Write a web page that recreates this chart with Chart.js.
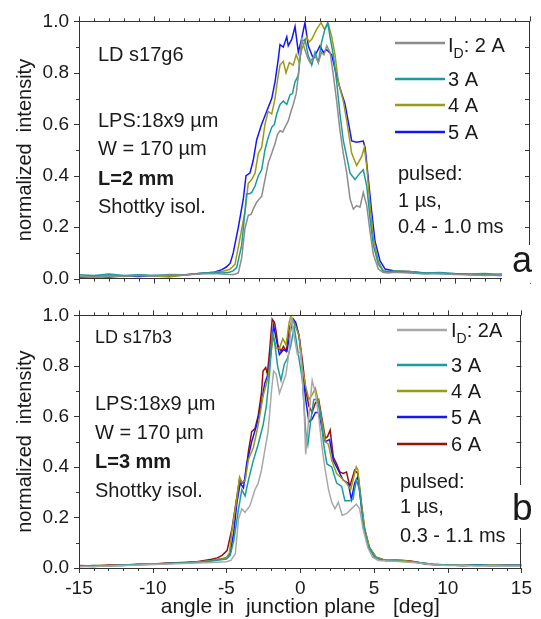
<!DOCTYPE html>
<html>
<head>
<meta charset="utf-8">
<script src="https://cdn.jsdelivr.net/npm/chart.js@4.4.1/dist/chart.umd.min.js"></script>
<style>
    html, body { margin: 0; padding: 0; background: #fff; }
    #wrap { position: relative; width: 541px; height: 619px; overflow: hidden; }
    canvas { position: absolute; left: 0; }
    #chartA { top: 0; }
    #chartB { top: 294px; }
</style>
</head>
<body>
<div id="wrap">
    <canvas id="chartA" width="541" height="300"></canvas>
    <canvas id="chartB" width="541" height="325"></canvas>
</div>
<script>
// x: angle in junction plane [deg], y: normalized intensity
const xTicks = [-15, -10, -5, 0, 5, 10, 15];
const yTicks = [0, 0.2, 0.4, 0.6, 0.8, 1.0];

// panel a: LD s17g6
const aGray2A = [[-15,0.008],[-14,0.006],[-13,0.01],[-12,0.008],[-11,0.012],[-10,0.01],[-9,0.014],[-8,0.014],[-7,0.018],[-6,0.02],[-5.5,0.018],[-5,0.016],[-4.7,0.016],[-4.4,0.022],[-4.18,0.08],[-3.96,0.195],[-3.74,0.246],[-3.55,0.25],[-3.41,0.27],[-3.18,0.297],[-3.0,0.31],[-2.85,0.32],[-2.63,0.385],[-2.41,0.45],[-2.18,0.487],[-1.96,0.525],[-1.8,0.56],[-1.63,0.575],[-1.45,0.57],[-1.3,0.588],[-1.08,0.613],[-0.9,0.65],[-0.75,0.677],[-0.55,0.72],[-0.41,0.79],[-0.19,0.93],[0.03,0.89],[0.2,0.86],[0.37,0.84],[0.55,0.86],[0.7,0.867],[0.92,0.84],[1.14,0.88],[1.3,0.87],[1.48,0.905],[1.7,0.88],[1.92,0.79],[2.14,0.69],[2.36,0.575],[2.58,0.487],[2.81,0.41],[3.03,0.31],[3.25,0.27],[3.47,0.284],[3.69,0.278],[3.91,0.335],[4.14,0.284],[4.36,0.183],[4.58,0.094],[4.91,0.037],[5.24,0.024],[5.6,0.022],[6,0.025],[7,0.022],[8,0.018],[9,0.02],[10,0.016],[11,0.015],[12,0.012],[13,0.014],[14,0.01],[15,0.012]];
const aTeal3A = [[-15,0.015],[-14,0.012],[-13,0.018],[-12,0.012],[-11,0.015],[-10,0.012],[-9,0.016],[-8,0.015],[-7,0.02],[-6,0.025],[-5.5,0.022],[-5,0.025],[-4.75,0.03],[-4.51,0.043],[-4.18,0.13],[-3.96,0.26],[-3.85,0.33],[-3.65,0.33],[-3.51,0.335],[-3.29,0.36],[-3.07,0.4],[-2.85,0.423],[-2.63,0.5],[-2.41,0.55],[-2.18,0.588],[-2.0,0.6],[-1.85,0.64],[-1.63,0.677],[-1.41,0.69],[-1.18,0.677],[-0.96,0.715],[-0.8,0.72],[-0.63,0.765],[-0.41,0.79],[-0.19,0.92],[0.03,0.93],[0.25,0.867],[0.48,0.83],[0.7,0.88],[0.92,0.84],[1.14,0.92],[1.36,0.97],[1.54,0.995],[1.7,0.94],[1.92,0.867],[2.14,0.765],[2.36,0.64],[2.58,0.537],[2.81,0.474],[3.03,0.41],[3.36,0.385],[3.69,0.41],[3.91,0.423],[4.14,0.36],[4.36,0.233],[4.58,0.13],[4.91,0.056],[5.24,0.03],[5.6,0.028],[6,0.03],[7,0.025],[8,0.022],[9,0.024],[10,0.02],[11,0.018],[12,0.02],[13,0.016],[14,0.018],[15,0.015]];
const aOlive4A = [[-15,0.008],[-14,0.01],[-13,0.012],[-12,0.01],[-11,0.014],[-10,0.01],[-9,0.006],[-8,0.014],[-7,0.02],[-6,0.024],[-5.5,0.028],[-5,0.035],[-4.8,0.045],[-4.62,0.056],[-4.29,0.157],[-3.96,0.26],[-3.74,0.37],[-3.51,0.385],[-3.29,0.41],[-3.07,0.487],[-2.85,0.51],[-2.63,0.6],[-2.41,0.65],[-2.18,0.64],[-1.96,0.7],[-1.8,0.77],[-1.63,0.83],[-1.41,0.845],[-1.23,0.8],[-1.01,0.84],[-0.75,0.83],[-0.55,0.87],[-0.35,0.84],[-0.19,0.89],[0.14,0.94],[0.3,0.92],[0.48,0.93],[0.81,0.97],[1.1,0.995],[1.32,0.97],[1.59,0.99],[1.81,0.94],[2.03,0.87],[2.25,0.765],[2.58,0.69],[2.81,0.613],[3.14,0.487],[3.47,0.44],[3.8,0.474],[3.98,0.51],[4.14,0.436],[4.36,0.284],[4.58,0.157],[4.91,0.068],[5.24,0.03],[5.6,0.026],[6,0.03],[7,0.028],[8,0.02],[9,0.022],[10,0.018],[11,0.016],[12,0.014],[13,0.018],[14,0.012],[15,0.014]];
const aBlue5A = [[-15,0.005],[-14,0.008],[-13,0.006],[-12,0.01],[-11,0.008],[-10,0.012],[-9,0.01],[-8,0.014],[-7,0.02],[-6,0.025],[-5.5,0.035],[-5.2,0.045],[-4.94,0.06],[-4.74,0.1],[-4.4,0.2],[-4.07,0.31],[-3.89,0.4],[-3.63,0.41],[-3.41,0.46],[-3.18,0.54],[-2.85,0.6],[-2.52,0.65],[-2.18,0.7],[-1.96,0.765],[-1.74,0.855],[-1.63,0.91],[-1.41,0.9],[-1.18,0.94],[-1.08,0.905],[-0.85,0.93],[-0.63,0.98],[-0.41,0.88],[-0.2,0.93],[0.03,0.995],[0.25,0.905],[0.59,0.855],[0.81,0.88],[1.03,0.905],[1.25,0.88],[1.48,0.89],[1.81,0.87],[2.03,0.815],[2.36,0.74],[2.69,0.68],[2.91,0.61],[3.14,0.535],[3.47,0.53],[3.91,0.535],[4.03,0.51],[4.25,0.385],[4.47,0.26],[4.69,0.145],[5.02,0.07],[5.36,0.037],[6,0.03],[7,0.028],[8,0.022],[9,0.02],[10,0.018],[11,0.016],[12,0.014],[13,0.012],[14,0.014],[15,0.012]];

// panel b: LD s17b3
const bGray2A = [[-15,0.005],[-14,0.006],[-13,0.008],[-12,0.01],[-11,0.012],[-10,0.014],[-9,0.016],[-8,0.018],[-7,0.02],[-6,0.022],[-5,0.025],[-4.7,0.03],[-4.4,0.056],[-4.18,0.196],[-3.96,0.234],[-3.74,0.22],[-3.41,0.247],[-3.07,0.31],[-2.85,0.336],[-2.63,0.387],[-2.41,0.463],[-2.18,0.54],[-1.96,0.692],[-1.81,0.78],[-1.63,0.768],[-1.41,0.692],[-1.18,0.73],[-0.96,0.768],[-0.75,0.86],[-0.6,0.995],[-0.45,0.93],[-0.19,0.845],[0.03,0.858],[0.26,0.64],[0.37,0.45],[0.59,0.603],[0.81,0.743],[1.03,0.692],[1.25,0.603],[1.48,0.476],[1.7,0.387],[1.92,0.31],[2.14,0.26],[2.36,0.234],[2.58,0.26],[2.85,0.209],[3.14,0.215],[3.47,0.234],[3.8,0.253],[4.03,0.234],[4.25,0.158],[4.58,0.081],[4.91,0.043],[5.3,0.03],[6,0.028],[7,0.025],[8,0.02],[9,0.013],[10,0.01],[11,0.01],[12,0.008],[13,0.009],[14,0.008],[15,0.008]];
const bTeal3A = [[-15,0.008],[-14,0.01],[-13,0.008],[-12,0.012],[-11,0.014],[-10,0.015],[-9,0.018],[-8,0.02],[-7,0.022],[-6,0.028],[-5,0.035],[-4.75,0.05],[-4.51,0.107],[-4.18,0.234],[-3.96,0.31],[-3.74,0.285],[-3.51,0.348],[-3.18,0.425],[-2.85,0.49],[-2.52,0.565],[-2.3,0.64],[-2.08,0.768],[-1.9,0.927],[-1.74,0.895],[-1.52,0.794],[-1.3,0.743],[-1.08,0.807],[-0.85,0.832],[-0.63,0.883],[-0.41,0.955],[-0.19,0.87],[0.15,0.743],[0.37,0.54],[0.52,0.489],[0.7,0.578],[0.92,0.667],[1.14,0.667],[1.36,0.616],[1.59,0.489],[1.81,0.412],[2.14,0.4],[2.47,0.336],[2.81,0.323],[3.03,0.266],[3.36,0.266],[3.58,0.272],[3.8,0.348],[4.03,0.31],[4.25,0.183],[4.58,0.094],[5.02,0.043],[5.5,0.032],[6,0.03],[7,0.026],[8,0.022],[9,0.015],[10,0.012],[11,0.01],[12,0.012],[13,0.01],[14,0.011],[15,0.01]];
const bOlive4A = [[-15,0.006],[-14,0.01],[-13,0.01],[-12,0.012],[-11,0.013],[-10,0.016],[-9,0.018],[-8,0.02],[-7,0.024],[-6,0.03],[-5,0.04],[-4.8,0.06],[-4.62,0.15],[-4.29,0.28],[-4.11,0.36],[-3.96,0.34],[-3.74,0.345],[-3.51,0.43],[-3.18,0.476],[-2.85,0.565],[-2.52,0.68],[-2.18,0.755],[-1.96,0.858],[-1.81,0.92],[-1.63,0.87],[-1.41,0.87],[-1.18,0.908],[-0.96,0.883],[-0.75,0.972],[-0.63,0.998],[-0.3,0.955],[-0.08,0.92],[0.15,0.79],[0.37,0.72],[0.59,0.667],[0.81,0.686],[1.03,0.712],[1.25,0.654],[1.48,0.578],[1.7,0.5],[1.92,0.489],[2.14,0.425],[2.47,0.374],[2.81,0.355],[3.14,0.336],[3.42,0.31],[3.8,0.4],[3.91,0.387],[4.14,0.26],[4.36,0.158],[4.69,0.081],[5.14,0.043],[5.8,0.03],[6.5,0.032],[7,0.03],[8,0.022],[9,0.015],[10,0.012],[11,0.012],[12,0.01],[13,0.012],[14,0.01],[15,0.011]];
const bBlue5A = [[-15,0.008],[-14,0.006],[-13,0.01],[-12,0.01],[-11,0.014],[-10,0.015],[-9,0.018],[-8,0.02],[-7,0.024],[-6,0.03],[-5,0.04],[-4.75,0.06],[-4.51,0.14],[-4.29,0.26],[-4.07,0.336],[-3.85,0.317],[-3.63,0.412],[-3.29,0.5],[-2.96,0.565],[-2.63,0.654],[-2.41,0.73],[-2.18,0.768],[-1.96,0.87],[-1.81,0.96],[-1.63,0.908],[-1.41,0.845],[-1.14,0.864],[-0.9,0.858],[-0.63,0.947],[-0.46,0.985],[-0.3,0.972],[-0.08,0.92],[0.15,0.794],[0.37,0.667],[0.59,0.578],[0.81,0.59],[1.03,0.616],[1.25,0.616],[1.48,0.552],[1.7,0.5],[1.99,0.508],[2.25,0.425],[2.58,0.387],[2.91,0.348],[3.25,0.336],[3.47,0.272],[3.69,0.336],[3.91,0.362],[4.14,0.247],[4.36,0.145],[4.69,0.075],[5.1,0.042],[5.8,0.03],[6.5,0.03],[7,0.028],[8,0.022],[9,0.014],[10,0.012],[11,0.01],[12,0.012],[13,0.01],[14,0.01],[15,0.012]];
const bRed6A = [[-15,0.01],[-14,0.008],[-13,0.012],[-12,0.012],[-11,0.015],[-10,0.016],[-9,0.02],[-8,0.022],[-7,0.025],[-6,0.035],[-5.62,0.04],[-5.3,0.05],[-4.96,0.069],[-4.62,0.158],[-4.29,0.285],[-4.11,0.355],[-3.96,0.336],[-3.74,0.348],[-3.51,0.463],[-3.29,0.54],[-3.07,0.552],[-2.85,0.603],[-2.63,0.692],[-2.52,0.78],[-2.34,0.794],[-2.23,0.768],[-2.08,0.858],[-1.9,0.985],[-1.74,0.972],[-1.63,0.934],[-1.52,0.883],[-1.3,0.858],[-1.14,0.877],[-0.96,0.858],[-0.75,0.947],[-0.52,0.985],[-0.3,0.96],[-0.08,0.92],[0.15,0.82],[0.37,0.705],[0.59,0.64],[0.81,0.616],[1.03,0.654],[1.25,0.667],[1.48,0.59],[1.7,0.514],[1.85,0.52],[2.03,0.546],[2.25,0.438],[2.47,0.412],[2.69,0.38],[2.91,0.374],[3.14,0.38],[3.36,0.323],[3.69,0.387],[3.91,0.374],[4.14,0.26],[4.36,0.158],[4.69,0.081],[5.14,0.043],[5.8,0.03],[6.5,0.032],[7,0.03],[7.5,0.028],[8,0.022],[8.5,0.015],[9,0.014],[10,0.012],[11,0.01],[12,0.012],[13,0.01],[14,0.012],[15,0.01]];

const FONT = '"Liberation Sans", Arial, sans-serif';
const INK = '#1a1a1a';

const toPoints = pairs => pairs.map(([x, y]) => ({ x, y }));

const series = (label, data, color) => ({
    label,
    data: toPoints(data),
    borderColor: color,
    borderWidth: 1.5,
    pointRadius: 0,
    fill: false,
    tension: 0,
});

// frame, minor ticks, notes, legend and panel letter
const panelDecor = {
    id: 'panelDecor',
    afterDatasetsDraw(chart, args, opts) {
        const { ctx, chartArea: area, scales: { x, y } } = chart;
        ctx.save();
        ctx.strokeStyle = '#333';
        ctx.lineWidth = 1;
        ctx.strokeRect(Math.round(area.left) + 0.5, Math.round(area.top) + 0.5,
            Math.round(area.right - area.left) - 1, Math.round(area.bottom - area.top));

        ctx.beginPath();
        for (let v = -15; v <= 15; v++) {
            const px = Math.round(x.getPixelForValue(v)) + 0.5;
            const len = v % 5 === 0 ? 5 : 3;
            ctx.moveTo(px, area.bottom);
            ctx.lineTo(px, area.bottom + len);
            ctx.moveTo(px, area.top);
            ctx.lineTo(px, area.top - len);
        }
        for (let i = 0; i <= 10; i++) {
            const py = Math.round(y.getPixelForValue(i / 10)) + 0.5;
            const len = i % 2 === 0 ? 5 : 3;
            ctx.moveTo(area.left, py);
            ctx.lineTo(area.left - len, py);
            ctx.moveTo(area.right, py);
            ctx.lineTo(area.right - 5, py);
        }
        ctx.stroke();

        // notes
        ctx.fillStyle = INK;
        ctx.textBaseline = 'alphabetic';
        ctx.textAlign = 'left';
        opts.notes.forEach(n => {
            ctx.font = (n.bold ? 'bold ' : '') + n.size + 'px ' + FONT;
            ctx.fillText(n.text, n.x, n.y);
        });

        // legend
        const lg = opts.legend;
        chart.data.datasets.forEach((ds, i) => {
            const ly = lg.rows[i];
            ctx.strokeStyle = ds.borderColor;
            ctx.lineWidth = 2.5;
            ctx.beginPath();
            ctx.moveTo(lg.x0, ly);
            ctx.lineTo(lg.x1, ly);
            ctx.stroke();
            ctx.fillStyle = INK;
            ctx.font = '20px ' + FONT;
            const base = ly + lg.dy[i];
            if (i === 0) {
                ctx.fillText('I', lg.tx, base);
                const w = ctx.measureText('I').width;
                ctx.font = '14px ' + FONT;
                ctx.fillText('D', lg.tx + w, base + 6);
                const w2 = ctx.measureText('D').width;
                ctx.font = '20px ' + FONT;
                ctx.fillText(lg.first, lg.tx + w + w2, base);
            } else {
                ctx.fillText(ds.label, lg.tx, base);
            }
        });

        // panel letter
        const b = opts.letter;
        ctx.fillStyle = '#fff';
        ctx.fillRect(b.x, b.y, b.w, b.h);
        ctx.fillStyle = INK;
        ctx.font = b.size + 'px ' + FONT;
        ctx.fillText(b.text, b.tx, b.ty);
        ctx.restore();
    },
};

function makePanel(canvasId, datasets, cfg) {
    return new Chart(document.getElementById(canvasId), {
        type: 'line',
        data: { datasets },
        options: {
            responsive: false,
            animation: false,
            events: [],
            layout: { padding: { left: 0, right: 11, top: cfg.top, bottom: 0 } },
            scales: {
                x: {
                    type: 'linear',
                    min: -15,
                    max: 15,
                    afterBuildTicks: s => { s.ticks = xTicks.map(v => ({ value: v })); },
                    afterFit: s => { s.height = cfg.xHeight; },
                    grid: { display: false, drawTicks: false },
                    border: { display: false },
                    ticks: {
                        display: cfg.showX,
                        padding: 9,
                        color: INK,
                        font: { family: FONT, size: 19 },
                        callback: v => String(v),
                    },
                    title: {
                        display: cfg.showX,
                        text: 'angle in  junction plane   [deg]',
                        color: INK,
                        font: { family: FONT, size: 21, lineHeight: 1 },
                        padding: { top: 0, bottom: 1 },
                    },
                },
                y: {
                    min: 0,
                    max: 1,
                    afterBuildTicks: s => { s.ticks = yTicks.map(v => ({ value: v })); },
                    afterFit: s => { s.width = 79; },
                    grid: { display: false, drawTicks: false },
                    border: { display: false },
                    ticks: {
                        padding: 10,
                        color: INK,
                        font: { family: FONT, size: 19 },
                        callback: v => Number(v).toFixed(1),
                    },
                    title: {
                        display: true,
                        text: 'normalized  intensity',
                        color: INK,
                        font: { family: FONT, size: 20, lineHeight: 1 },
                        padding: { top: 15, bottom: 0 },
                    },
                },
            },
            plugins: {
                legend: { display: false },
                tooltip: { enabled: false },
                panelDecor: cfg.decor,
            },
        },
        plugins: [panelDecor],
    });
}

makePanel('chartA', [
    series('2 A', aGray2A, '#8c8c8c'),
    series('3 A', aTeal3A, '#1b9b9b'),
    series('4 A', aOlive4A, '#9b9b15'),
    series('5 A', aBlue5A, '#1414ff'),
], {
    top: 20,
    xHeight: 17,
    showX: false,
    decor: {
        notes: [
            { text: 'LD s17g6', x: 98, y: 61, size: 20 },
            { text: 'LPS:18x9 \u00b5m', x: 98, y: 127, size: 20 },
            { text: 'W = 170 \u00b5m', x: 98, y: 155, size: 20 },
            { text: 'L=2 mm', x: 98, y: 185, size: 20, bold: true },
            { text: 'Shottky isol.', x: 98, y: 213, size: 20 },
            { text: 'pulsed:', x: 398, y: 180, size: 20 },
            { text: '1 \u00b5s,', x: 398, y: 207, size: 20 },
            { text: '0.4 - 1.0 ms', x: 398, y: 233, size: 20 },
        ],
        legend: { x0: 395, x1: 445, tx: 448, rows: [43, 79, 105, 132], dy: [9, 7, 7, 7], first: ': 2 A' },
        letter: { x: 502, y: 245, w: 32, h: 38, text: 'a', size: 36, tx: 512, ty: 272 },
    },
});

makePanel('chartB', [
    series('2A', bGray2A, '#a8a8a8'),
    series('3 A', bTeal3A, '#1b9b9b'),
    series('4 A', bOlive4A, '#9b9b15'),
    series('5 A', bBlue5A, '#1414ff'),
    series('6 A', bRed6A, '#990f0f'),
], {
    top: 12,
    xHeight: 51,
    showX: true,
    decor: {
        notes: [
            { text: 'LD s17b3', x: 95, y: 49, size: 18 },
            { text: 'LPS:18x9 \u00b5m', x: 95, y: 116, size: 20 },
            { text: 'W = 170 \u00b5m', x: 95, y: 145, size: 20 },
            { text: 'L=3 mm', x: 95, y: 174, size: 20, bold: true },
            { text: 'Shottky isol.', x: 95, y: 203, size: 20 },
            { text: 'pulsed:', x: 400, y: 194, size: 20 },
            { text: '1 \u00b5s,', x: 400, y: 219, size: 20 },
            { text: '0.3 - 1.1 ms', x: 400, y: 248, size: 20 },
        ],
        legend: { x0: 397, x1: 447, tx: 451, rows: [36, 71, 97, 123, 150], dy: [7, 7, 7, 7, 7], first: ': 2A' },
        letter: { x: 500, y: 191, w: 34, h: 43, text: 'b', size: 37, tx: 512, ty: 226 },
    },
});
</script>
</body>
</html>
